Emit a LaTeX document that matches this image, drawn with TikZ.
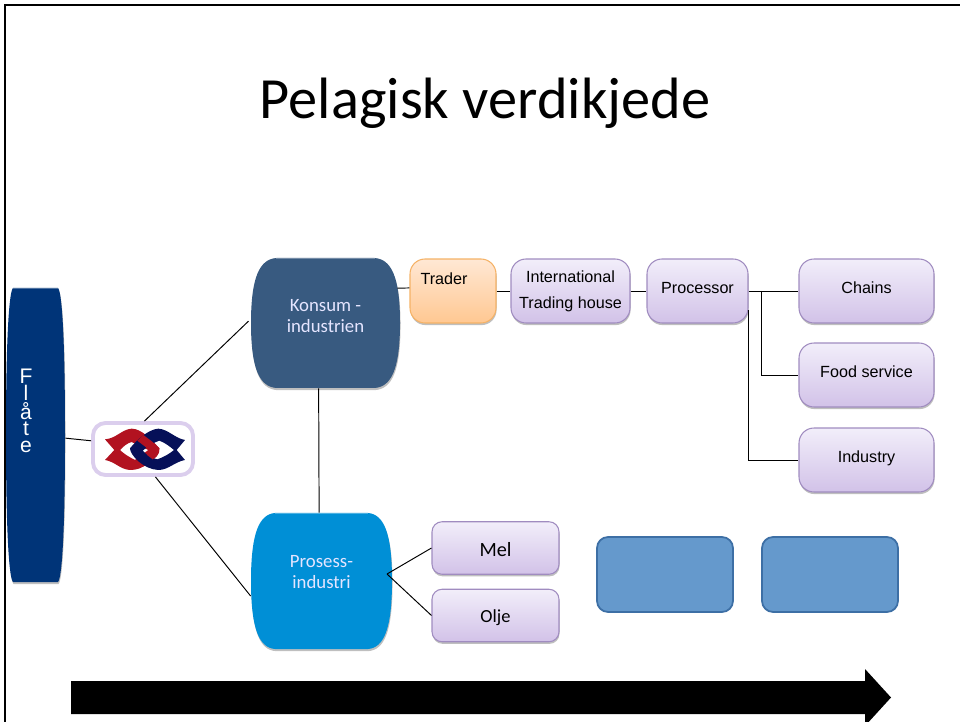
\documentclass[tikz,border=0pt]{standalone}
\usepackage{fontspec}
\setmainfont{Liberation Sans}
\newfontfamily\calibrifont{Carlito}
\usepackage{tikz}
\usetikzlibrary{shadows}
\definecolor{fleetColor}{RGB}{0,52,120}
\definecolor{consumeColor}{RGB}{56,90,128}
\definecolor{processColor}{RGB}{0,143,214}
\definecolor{lilacTop}{RGB}{242,238,250}
\definecolor{lilacBottom}{RGB}{210,194,232}
\definecolor{lilacLine}{RGB}{160,140,192}
\definecolor{peachTop}{RGB}{255,232,212}
\definecolor{peachBottom}{RGB}{255,200,146}
\definecolor{peachLine}{RGB}{245,178,102}
\definecolor{plainColor}{RGB}{101,153,204}
\definecolor{plainLine}{RGB}{61,111,165}
\definecolor{knotRed}{RGB}{178,18,32}
\definecolor{knotBlue}{RGB}{6,16,88}
\pgfdeclareverticalshading{logoglow}{100bp}{color(0bp)=(white); color(70bp)=(white); color(88bp)=(white); color(100bp)=(gray)}
\tikzset{
  softshadow/.style={drop shadow={shadow xshift=0.3pt,shadow yshift=-1.2pt,opacity=0.25,fill=black}},
  linkline/.style={draw=black,line width=0.55pt},
  lilacbox/.style={draw=lilacLine,line width=0.6pt,top color=lilacTop,bottom color=lilacBottom,rounded corners=0.3cm,softshadow,inner sep=0pt,align=center,font=\fontsize{9.2}{14.6}\selectfont},
  peachbox/.style={lilacbox,draw=peachLine,top color=peachTop,bottom color=peachBottom},
  raised/.style={text height=8pt,text depth=5pt},
  smallbox/.style={lilacbox,rounded corners=0.2cm,minimum width=2.54cm,minimum height=1.05cm,font=\calibrifont\fontsize{11.5}{14}\selectfont},
  plainbox/.style={draw=plainLine,line width=1pt,fill=plainColor,rounded corners=0.22cm,inner sep=0pt,minimum width=2.72cm,minimum height=1.5cm},
  bulgelabel/.style={inner sep=0pt,align=center,text=white!90!blue,font=\calibrifont\fontsize{10.7}{12.6}\selectfont}
}
\newcommand{\bulgebox}[6]{
  \pgfmathsetmacro{\bw}{#3-#1}
  \pgfmathsetmacro{\bh}{#4-#2}
  \fill[#5,softshadow] ({#1+#6*\bw},#2) -- ({#3-#6*\bw},#2) .. controls ({#3-0.06*\bw},{#2+0.01*\bh}) and (#3,{#2+0.14*\bh}) .. (#3,{#2+0.5*\bh}) .. controls (#3,{#4-0.14*\bh}) and ({#3-0.06*\bw},{#4-0.01*\bh}) .. ({#3-#6*\bw},#4) -- ({#1+#6*\bw},#4) .. controls ({#1+0.06*\bw},{#4-0.01*\bh}) and (#1,{#4-0.14*\bh}) .. (#1,{#2+0.5*\bh}) .. controls (#1,{#2+0.14*\bh}) and ({#1+0.06*\bw},{#2+0.01*\bh}) .. cycle;
  \draw[#5!70!white,line width=0.8pt] ({#1+#6*\bw},{#2+0.7}) -- ({#3-#6*\bw},{#2+0.7});
}
\begin{document}
\begin{tikzpicture}[x=0.02cm,y=-0.02cm]
\useasboundingbox (0,0) rectangle (960,722);
\draw[black,line width=1.1pt] (5,722) -- (5,5) -- (960,5);
\node (title) at (485,103) {\calibrifont\fontsize{33.2}{40}\selectfont Pelagisk verdikjede};
\bulgebox{6}{288}{65}{582}{fleetColor}{0.12}
\bulgebox{251}{258}{400}{388}{consumeColor}{0.17}
\bulgebox{251}{513}{392}{649}{processColor}{0.17}
\node[minimum width=1.18cm,minimum height=5.88cm,inner sep=0pt] (flate) at (35.5,435) {};
\node[inner sep=0pt,align=center,text=white,font=\fontsize{12}{9.6}\selectfont] (flatetext) at (26,411) {F\\l\\å\\t\\e};
\node[bulgelabel,minimum width=2.98cm,minimum height=2.6cm] (konsum) at (325.5,323) {\raisebox{0.29cm}{\shortstack{Konsum -\\[1.5pt]industrien}}};
\node[bulgelabel,minimum width=2.82cm,minimum height=2.72cm] (prosess) at (321.5,581) {\raisebox{0.37cm}{\shortstack{Prosess-\\[1.5pt]industri}}};
\node[draw=lilacBottom!80!white,line width=2.2pt,shading=logoglow,rounded corners=0.25cm,minimum width=2cm,minimum height=1.04cm,inner sep=0pt] (logo) at (143,449) {};
\begin{scope}[shift={(80,410)},x=0.00667cm,y=-0.00667cm]
  \fill[knotRed,even odd rule] (75,88) .. controls (110,85) and (125,58) .. (155,56) .. controls (185,56) and (215,90) .. (238,115) .. controls (240,135) and (225,145) .. (205,160) .. controls (185,175) and (170,180) .. (150,180) .. controls (120,178) and (105,155) .. (75,150) -- (103,120) -- cycle (120,120) .. controls (130,110) and (140,100) .. (155,96) -- (205,120) -- (165,150) .. controls (145,140) and (130,130) .. (120,120) -- cycle;
  \fill[knotBlue,even odd rule] (315,90) .. controls (285,85) and (265,58) .. (235,56) .. controls (205,58) and (170,90) .. (150,115) .. controls (150,135) and (190,178) .. (235,180) .. controls (265,180) and (285,155) .. (315,150) -- (290,120) -- cycle (282,120) .. controls (270,110) and (255,98) .. (238,92) .. controls (220,98) and (205,108) .. (188,122) .. controls (200,135) and (215,145) .. (232,148) .. controls (250,142) and (268,132) .. (282,120) -- cycle;
  \fill[knotRed] (190,75) .. controls (210,90) and (225,100) .. (238,115) .. controls (240,130) and (230,140) .. (218,148) -- (200,134) .. controls (207,127) and (207,120) .. (198,112) -- (172,92) -- cycle;
\end{scope}
\node[peachbox,minimum width=1.72cm,minimum height=1.28cm] (trader) at (453,291) {\mbox{Trader\hspace{0.36cm}}\\~};
\node[lilacbox,minimum width=2.38cm,minimum height=1.28cm] (house) at (570.5,291) {International\\Trading house};
\node[lilacbox,raised,minimum width=2.02cm,minimum height=1.28cm] (processor) at (697.5,291) {Processor};
\node[lilacbox,raised,minimum width=2.7cm,minimum height=1.28cm] (chains) at (866.5,291) {Chains};
\node[lilacbox,raised,minimum width=2.7cm,minimum height=1.28cm] (food) at (866.5,375) {Food service};
\node[lilacbox,raised,minimum width=2.7cm,minimum height=1.28cm] (industry) at (866.5,460) {Industry};
\node[smallbox,text height=10pt,text depth=0.5pt] (mel) at (495.5,548) {Mel};
\node[smallbox,text height=8.5pt,text depth=0.3pt,font=\calibrifont\fontsize{10.5}{14}\selectfont] (olje) at (495.5,615.5) {Olje};
\node[plainbox] (blank one) at (665,574.5) {};
\node[plainbox] (blank two) at (830,574.5) {};
\coordinate (fork) at (387,574);
\coordinate (tee) at (761,291);
\coordinate (drop) at (748,310);
\draw[linkline] (flate.354) -- (logo.171);
\draw[linkline,shorten >=0.06cm] (logo.87) -- (konsum.177);
\draw[linkline] (logo.294) -- (prosess.192);
\draw[linkline] (konsum.264.3) -- (prosess.92);
\draw[linkline,shorten <=-0.06cm] (konsum.25) -- (trader.176);
\draw[linkline] (trader.east) -- (house.west);
\draw[linkline] (house.east) -- (processor.west);
\draw[linkline] (processor.east) -- (chains.west);
\draw[linkline] (tee) |- (food.west);
\draw[linkline] (drop) |- (industry.west);
\draw[linkline] (fork) -- (mel.west);
\draw[linkline] (fork) -- (olje.west);
\fill[black] (71,681) -- (865,681) -- (865,669) -- (891,697.5) -- (865,726) -- (865,714) -- (71,714) -- cycle;
\end{tikzpicture}
\end{document}
